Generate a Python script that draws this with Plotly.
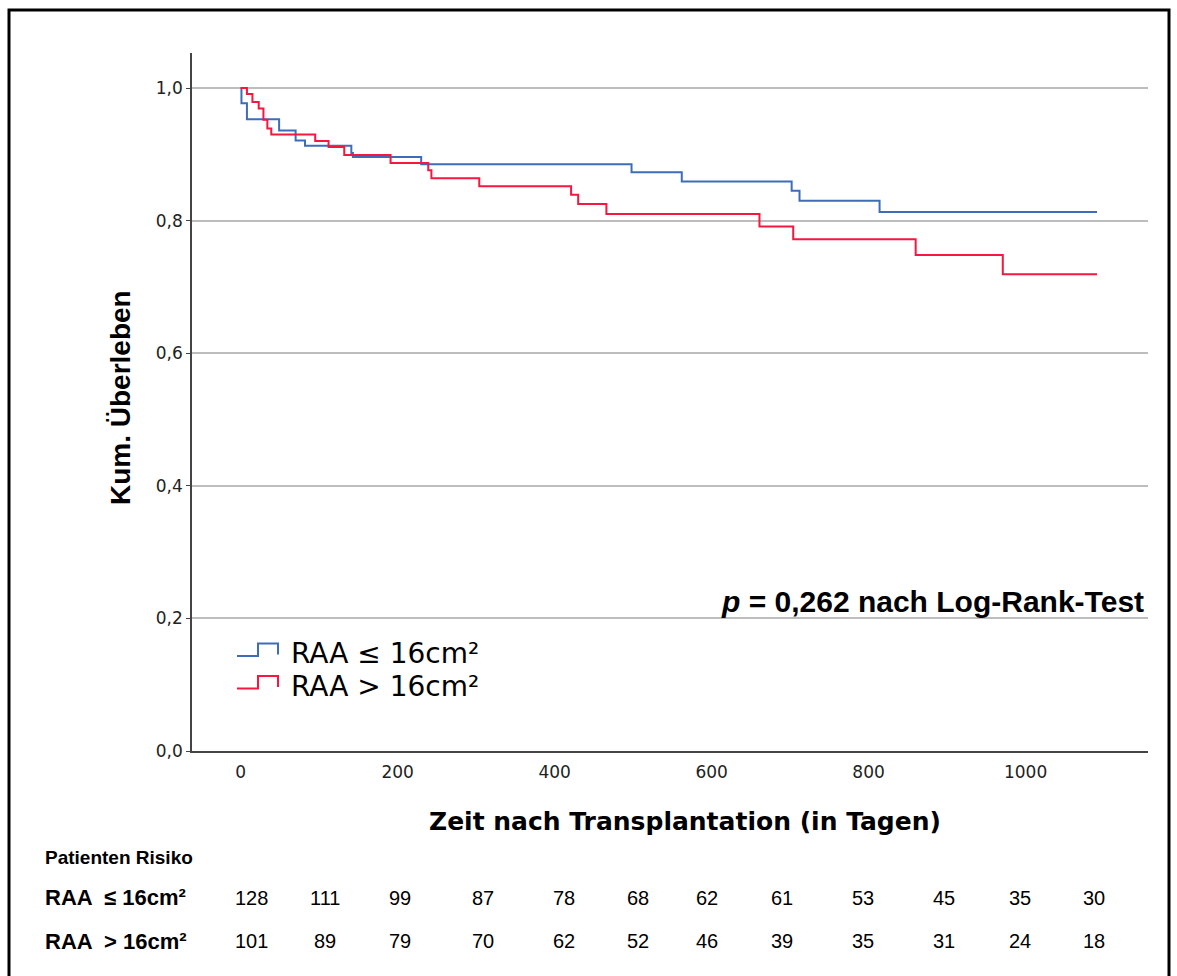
import plotly.graph_objects as go

# ---- data ----
blue_name = "RAA ≤ 16cm²"
red_name = "RAA > 16cm²"

blue_t = [0, 1, 8, 49, 70, 82, 141, 143, 230, 498, 562, 702, 712, 814, 1091]
blue_s = [1.0, 0.977, 0.953, 0.936, 0.921, 0.913, 0.902, 0.896, 0.885, 0.873,
          0.859, 0.845, 0.830, 0.813, 0.813]

red_t = [0, 8, 15, 23, 29, 34, 39, 95, 112, 132, 191, 239, 243, 304, 421, 430,
         466, 661, 704, 860, 971, 1091]
red_s = [1.0, 0.991, 0.979, 0.969, 0.952, 0.939, 0.930, 0.920, 0.911, 0.899,
         0.887, 0.876, 0.864, 0.852, 0.839, 0.825, 0.810, 0.791, 0.772, 0.748,
         0.719, 0.719]

x_ticks = [0, 200, 400, 600, 800, 1000]
y_ticks = [0.0, 0.2, 0.4, 0.6, 0.8, 1.0]

risk_title = "Patienten Risiko"
risk_labels = ["RAA  ≤ 16cm²", "RAA  > 16cm²"]
risk_blue = [128, 111, 99, 87, 78, 68, 62, 61, 53, 45, 35, 30]
risk_red = [101, 89, 79, 70, 62, 52, 46, 39, 35, 31, 24, 18]

p_text = "<i>p</i> = 0,262 nach Log-Rank-Test"
x_title = "Zeit nach Transplantation (in Tagen)"
y_title = "Kum. Überleben"

# ---- layout geometry (pixels) ----
W, H = 1177, 976
PL, PR, PT, PB = 192, 1148, 53, 751
risk_cols_px = [251, 325, 400, 483, 564, 638, 707, 782, 863, 944, 1020, 1094]

BLUE = "#3D6DB9"
RED = "#F5173F"


def fx(px):
    return (px - PL) / (PR - PL)


def fy(py):
    return (PB - py) / (PB - PT)


fig = go.Figure()
fig.add_trace(go.Scatter(x=blue_t, y=blue_s, mode="lines", line_shape="hv",
                         line=dict(color=BLUE, width=2), name=blue_name,
                         showlegend=False))
fig.add_trace(go.Scatter(x=red_t, y=red_s, mode="lines", line_shape="hv",
                         line=dict(color=RED, width=2), name=red_name,
                         showlegend=False))

annotations = []
shapes = []

# legend (drawn manually with step symbols)
for i, (name, col) in enumerate([(blue_name, BLUE), (red_name, RED)]):
    base = 656 + i * 32.5
    top = base - 12.5
    path = (f"M {fx(237)},{fy(base)} L {fx(258)},{fy(base)} L {fx(258)},{fy(top)} "
            f"L {fx(278)},{fy(top)} L {fx(278)},{fy(base - 1.5)}")
    shapes.append(dict(type="path", xref="paper", yref="paper", path=path,
                       line=dict(color=col, width=2)))
    annotations.append(dict(x=fx(289), y=fy(653 + i * 33), xref="paper", yref="paper",
                            text=name, showarrow=False, xanchor="left", yanchor="middle",
                            font=dict(family="DejaVu Sans", size=28, color="black")))

# p-value
annotations.append(dict(x=fx(1146), y=fy(601), xref="paper", yref="paper", text=f"<b>{p_text}</b>",
                        showarrow=False, xanchor="right", yanchor="middle",
                        font=dict(family="Liberation Sans", size=30, color="black")))

# axis titles
annotations.append(dict(x=fx(120), y=fy(398), xref="paper", yref="paper", text=f"<b>{y_title}</b>",
                        showarrow=False, textangle=-90, xanchor="center", yanchor="middle",
                        font=dict(family="Liberation Sans", size=28, color="black")))
annotations.append(dict(x=fx(685), y=fy(822), xref="paper", yref="paper", text=f"<b>{x_title}</b>",
                        showarrow=False, xanchor="center", yanchor="middle",
                        font=dict(family="DejaVu Sans", size=25, color="black")))

# risk table
annotations.append(dict(x=fx(43), y=fy(857), xref="paper", yref="paper", text=f"<b>{risk_title}</b>",
                        showarrow=False, xanchor="left", yanchor="middle",
                        font=dict(family="Liberation Sans", size=19, color="black")))
for r, (lab, vals) in enumerate(zip(risk_labels, [risk_blue, risk_red])):
    yy = fy(898 + r * 43)
    annotations.append(dict(x=fx(43), y=yy, xref="paper", yref="paper", text=f"<b>{lab}</b>",
                            showarrow=False, xanchor="left", yanchor="middle",
                            font=dict(family="Liberation Sans", size=22, color="black")))
    for cx, v in zip(risk_cols_px, vals):
        annotations.append(dict(x=fx(cx), y=yy, xref="paper", yref="paper", text=str(v),
                                showarrow=False, xanchor="center", yanchor="middle",
                                font=dict(family="Liberation Sans", size=20, color="black")))

# outer frame
shapes.append(dict(type="rect", xref="paper", yref="paper",
                   x0=fx(9), x1=fx(1169), y0=fy(990), y1=fy(10),
                   line=dict(color="black", width=3), layer="above"))

x_range = [-62, 1156]
y_range = [0, 1.0528]

fig.update_layout(
    width=W, height=H,
    margin=dict(l=PL, r=W - PR, t=PT, b=H - PB),
    paper_bgcolor="white", plot_bgcolor="white",
    separators=",.",
    showlegend=False,
    annotations=annotations,
    shapes=shapes,
    xaxis=dict(range=x_range, tickvals=x_ticks, showgrid=False, zeroline=False,
               showline=True, linecolor="#444", linewidth=1.5, ticks="",
               ticklabelstandoff=5,
               tickfont=dict(family="DejaVu Sans", size=17, color="#222")),
    yaxis=dict(range=y_range, tickvals=y_ticks, tickformat=".1f", showgrid=True,
               gridcolor="#BDBDBD", gridwidth=1.5, zeroline=False,
               showline=True, linecolor="#444", linewidth=1.5, ticks="outside",
               ticklen=4, tickcolor="#444",
               tickfont=dict(family="DejaVu Sans", size=17, color="#222")),
)

fig.write_html("out.html", config={"displayModeBar": False},
               post_script="document.body.style.margin='0px';")
